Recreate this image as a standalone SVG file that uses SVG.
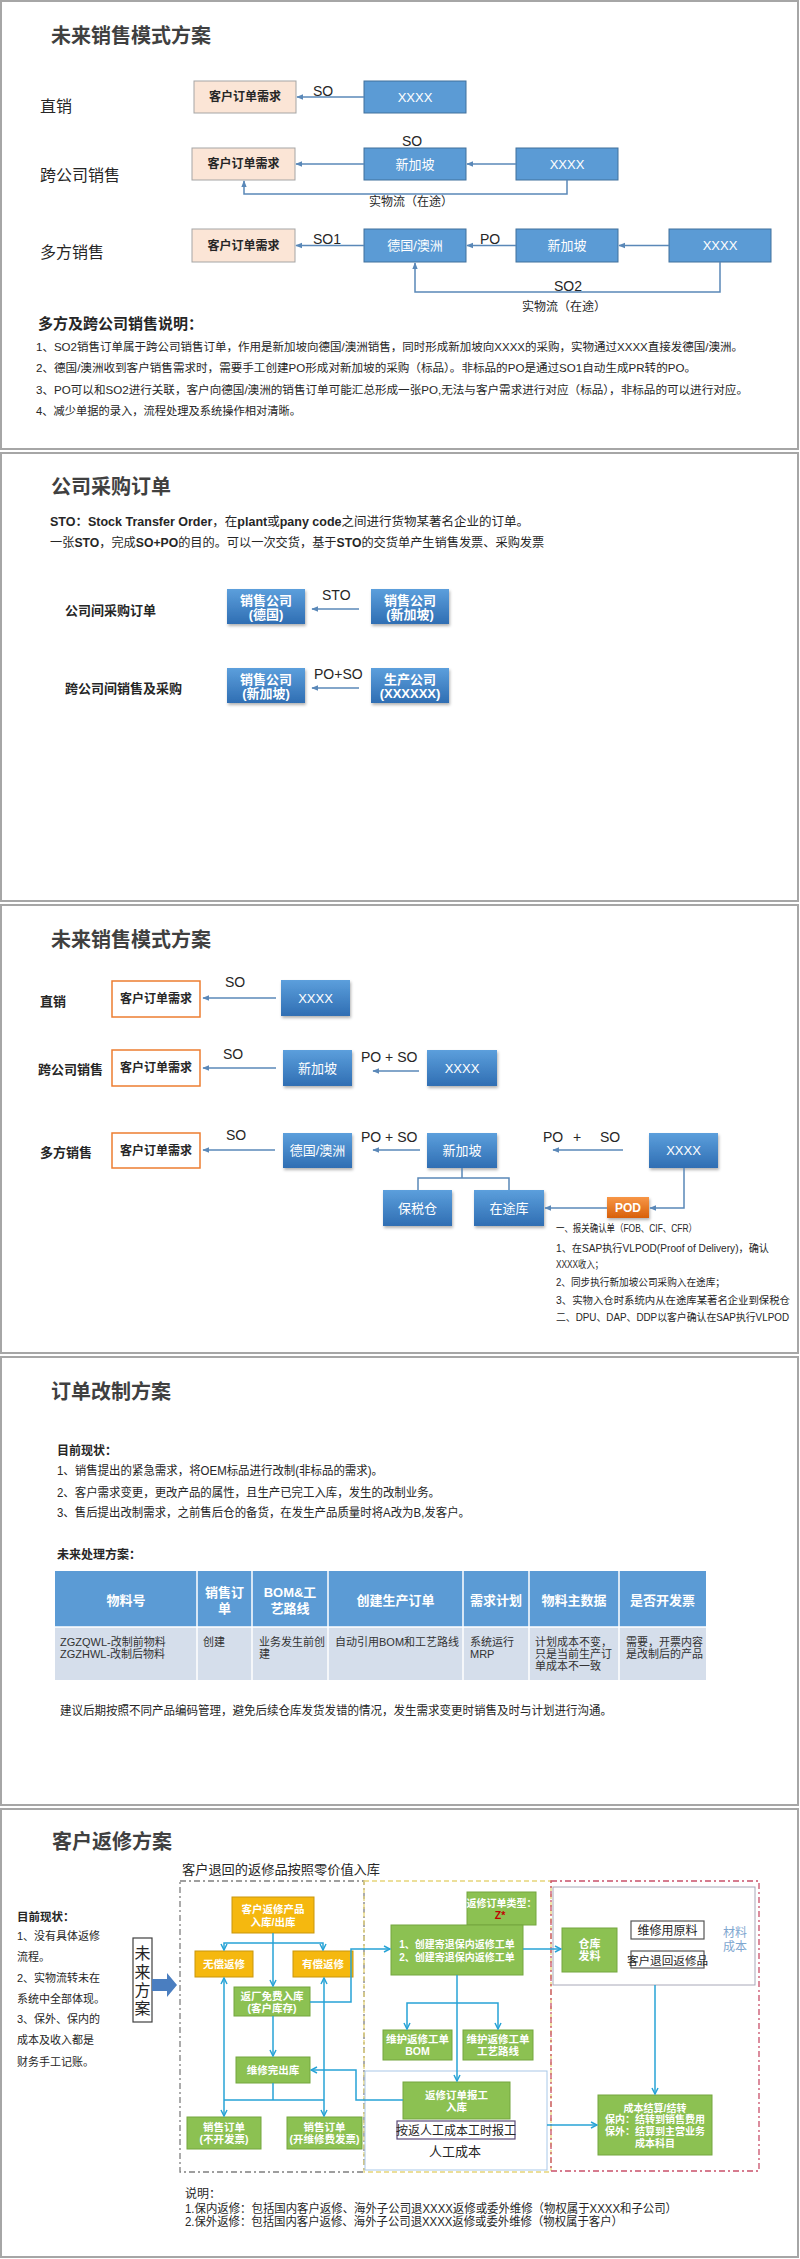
<svg xmlns="http://www.w3.org/2000/svg" width="800" height="2259" viewBox="0 0 800 2259">
<style>
text{font-family:'Liberation Sans','Noto Sans CJK SC',sans-serif;fill:#262626}
.frame{fill:#fff;stroke:#a6a6a6;stroke-width:2}
.title{font-size:20px;font-weight:bold;fill:#404040}
.lbl16{font-size:16px}
.lbl13b{font-size:13px;font-weight:bold}
.so{font-size:14px}
.body{font-size:12px}
.desc{font-size:11.5px}
.small{font-size:11px}
.note{font-size:10.2px}
.peach{fill:#fbe5d6;stroke:#a5a5a5;stroke-width:1}
.flat{fill:#5b9bd5;stroke:#41719c;stroke-width:1}
.grad{fill:url(#gBlue);filter:url(#sh)}
.orng{fill:#fff;stroke:#ed7d31;stroke-width:1.5}
.pod{fill:url(#gOrange);filter:url(#sh)}
.bt{font-size:12px;font-weight:bold;text-anchor:middle}
.wt{font-size:13px;fill:#fff;text-anchor:middle}
.wb{font-size:13px;font-weight:bold;fill:#fff;text-anchor:middle}
.conn{fill:none;stroke:#5a88b8;stroke-width:1.5}
.conn5{fill:none;stroke:#27a3d6;stroke-width:1.5}
.gold{fill:#f5b80f;stroke:#c9960c;stroke-width:1}
.green{fill:#8cc152;stroke:#74a63e;stroke-width:1}
.gw{font-size:10.5px;font-weight:bold;fill:#fff;text-anchor:middle}
.th{font-size:13px;font-weight:bold;fill:#fff;text-anchor:middle}
.td{font-size:11px;fill:#333}
</style>
<defs>
<linearGradient id="gBlue" x1="0" y1="0" x2="0" y2="1"><stop offset="0" stop-color="#5c9fdc"/><stop offset="1" stop-color="#2f6eb3"/></linearGradient>
<linearGradient id="gOrange" x1="0" y1="0" x2="0" y2="1"><stop offset="0" stop-color="#f79646"/><stop offset="1" stop-color="#d8600a"/></linearGradient>
<filter id="sh" x="-10%" y="-10%" width="130%" height="140%"><feDropShadow dx="1" dy="2" stdDeviation="1.5" flood-color="#000" flood-opacity="0.3"/></filter>
<marker id="ah" viewBox="0 0 10 10" refX="9" refY="5" markerWidth="4.5" markerHeight="4.5" orient="auto-start-reverse"><path d="M0,1 L10,5 L0,9 z" fill="#5a88b8"/></marker>
<marker id="ahc" viewBox="0 0 10 10" refX="9" refY="5" markerWidth="5" markerHeight="5" orient="auto-start-reverse"><path d="M1,1 L9,5 L1,9" fill="none" stroke="#27a3d6" stroke-width="2"/></marker>
</defs>
<rect width="800" height="2259" fill="#fff"/>

<!-- ================= Slide 1 ================= -->
<g id="slide1">
<rect class="frame" x="1" y="1" width="797" height="448"/>
<text class="title" x="51" y="43">未来销售模式方案</text>
<text class="lbl16" x="40" y="112">直销</text>
<text class="lbl16" x="40" y="181">跨公司销售</text>
<text class="lbl16" x="40" y="258">多方销售</text>
<g id="s1-r1-cust"><rect class="peach" x="194" y="81" width="102" height="32"/><text class="bt" x="245" y="101">客户订单需求</text></g>
<g id="s1-r1-xxxx"><rect class="flat" x="364" y="81" width="102" height="32"/><text class="wt" x="415" y="102">XXXX</text></g>
<g id="s1-r2-cust"><rect class="peach" x="192" y="148" width="103" height="32"/><text class="bt" x="243.5" y="168">客户订单需求</text></g>
<g id="s1-r2-sg"><rect class="flat" x="364" y="148" width="102" height="32"/><text class="wt" x="415" y="169">新加坡</text></g>
<g id="s1-r2-xxxx"><rect class="flat" x="516" y="148" width="102" height="32"/><text class="wt" x="567" y="169">XXXX</text></g>
<g id="s1-r3-cust"><rect class="peach" x="192" y="229" width="103" height="33"/><text class="bt" x="243.5" y="250">客户订单需求</text></g>
<g id="s1-r3-de"><rect class="flat" x="364" y="229" width="102" height="33"/><text class="wt" x="415" y="250">德国/澳洲</text></g>
<g id="s1-r3-sg"><rect class="flat" x="516" y="229" width="102" height="33"/><text class="wt" x="567" y="250">新加坡</text></g>
<g id="s1-r3-xxxx"><rect class="flat" x="669" y="229" width="102" height="33"/><text class="wt" x="720" y="250">XXXX</text></g>
<g id="s1-connectors">
<path class="conn" d="M364,97 H297" marker-end="url(#ah)"/>
<path class="conn" d="M364,164 H296" marker-end="url(#ah)"/>
<path class="conn" d="M516,164 H467" marker-end="url(#ah)"/>
<path class="conn" d="M567,180 V194 H244 V181" marker-end="url(#ah)"/>
<path class="conn" d="M364,245.5 H296" marker-end="url(#ah)"/>
<path class="conn" d="M516,245.5 H467" marker-end="url(#ah)"/>
<path class="conn" d="M669,245.5 H619" marker-end="url(#ah)"/>
<path class="conn" d="M720,262 V292 H415 V263" marker-end="url(#ah)"/>
<text class="so" x="313" y="96">SO</text>
<text class="so" x="402" y="146">SO</text>
<text class="body" x="411" y="206" text-anchor="middle">实物流（在途）</text>
<text class="so" x="313" y="244">SO1</text>
<text class="so" x="480" y="244">PO</text>
<text class="so" x="554" y="291">SO2</text>
<text class="body" x="564" y="311" text-anchor="middle">实物流（在途）</text>
</g>
<text x="38" y="329" style="font-size:15px;font-weight:bold">多方及跨公司销售说明：</text>
<text class="desc" x="36" y="351" textLength="707" lengthAdjust="spacingAndGlyphs">1、SO2销售订单属于跨公司销售订单，作用是新加坡向德国/澳洲销售，同时形成新加坡向XXXX的采购，实物通过XXXX直接发德国/澳洲。</text>
<text class="desc" x="36" y="372" textLength="660" lengthAdjust="spacingAndGlyphs">2、德国/澳洲收到客户销售需求时，需要手工创建PO形成对新加坡的采购（标品）。非标品的PO是通过SO1自动生成PR转的PO。</text>
<text class="desc" x="36" y="394" textLength="712" lengthAdjust="spacingAndGlyphs">3、PO可以和SO2进行关联，客户向德国/澳洲的销售订单可能汇总形成一张PO,无法与客户需求进行对应（标品），非标品的可以进行对应。</text>
<text class="desc" x="36" y="415" textLength="265" lengthAdjust="spacingAndGlyphs">4、减少单据的录入，流程处理及系统操作相对清晰。</text>
</g>

<!-- ================= Slide 2 ================= -->
<g id="slide2">
<rect class="frame" x="1" y="453" width="797" height="448"/>
<text class="title" x="51" y="494">公司采购订单</text>
<text x="50" y="526" style="font-size:12.5px"><tspan font-weight="bold">STO：Stock Transfer Order</tspan>，在<tspan font-weight="bold">plant</tspan>或<tspan font-weight="bold">pany code</tspan>之间进行货物某著名企业的订单。</text>
<text x="50" y="547" style="font-size:12.2px">一张<tspan font-weight="bold">STO</tspan>，完成<tspan font-weight="bold">SO+PO</tspan>的目的。可以一次交货，基于<tspan font-weight="bold">STO</tspan>的交货单产生销售发票、采购发票</text>
<text class="lbl13b" x="65" y="615">公司间采购订单</text>
<text class="lbl13b" x="65" y="693">跨公司间销售及采购</text>
<g id="s2-sales-de"><rect class="grad" x="227" y="589" width="78" height="35"/><text class="wb" x="266" y="605">销售公司</text><text class="wb" x="266" y="619">(德国)</text></g>
<g id="s2-sales-sg"><rect class="grad" x="371" y="589" width="78" height="35"/><text class="wb" x="410" y="605">销售公司</text><text class="wb" x="410" y="619">(新加坡)</text></g>
<g id="s2-sales-sg2"><rect class="grad" x="227" y="668" width="78" height="35"/><text class="wb" x="266" y="684">销售公司</text><text class="wb" x="266" y="698">(新加坡)</text></g>
<g id="s2-prod"><rect class="grad" x="371" y="668" width="78" height="35"/><text class="wb" x="410" y="684">生产公司</text><text class="wb" x="410" y="698">(XXXXXX)</text></g>
<g id="s2-connectors">
<path class="conn" d="M359,609 H312" marker-end="url(#ah)"/>
<path class="conn" d="M359,688 H312" marker-end="url(#ah)"/>
<text class="so" x="322" y="600">STO</text>
<text class="so" x="314" y="679">PO+SO</text>
</g>
</g>

<!-- ================= Slide 3 ================= -->
<g id="slide3">
<rect class="frame" x="1" y="905" width="797" height="448"/>
<text class="title" x="51" y="947">未来销售模式方案</text>
<text class="lbl13b" x="40" y="1006">直销</text>
<text class="lbl13b" x="38" y="1074">跨公司销售</text>
<text class="lbl13b" x="40" y="1157">多方销售</text>
<g id="s3-r1-cust"><rect class="orng" x="112" y="981" width="88" height="36"/><text class="bt" x="156" y="1003">客户订单需求</text></g>
<g id="s3-r1-xxxx"><rect class="grad" x="281" y="980" width="69" height="36"/><text class="wt" x="315.5" y="1003">XXXX</text></g>
<g id="s3-r2-cust"><rect class="orng" x="112" y="1050" width="88" height="36"/><text class="bt" x="156" y="1072">客户订单需求</text></g>
<g id="s3-r2-sg"><rect class="grad" x="283" y="1050" width="69" height="36"/><text class="wt" x="317.5" y="1073">新加坡</text></g>
<g id="s3-r2-xxxx"><rect class="grad" x="427" y="1050" width="70" height="36"/><text class="wt" x="462" y="1073">XXXX</text></g>
<g id="s3-r3-cust"><rect class="orng" x="112" y="1133" width="88" height="35"/><text class="bt" x="156" y="1155">客户订单需求</text></g>
<g id="s3-r3-de"><rect class="grad" x="283" y="1133" width="69" height="35"/><text class="wt" x="317.5" y="1155">德国/澳洲</text></g>
<g id="s3-r3-sg"><rect class="grad" x="427" y="1133" width="70" height="35"/><text class="wt" x="462" y="1155">新加坡</text></g>
<g id="s3-r3-xxxx"><rect class="grad" x="649" y="1133" width="69" height="35"/><text class="wt" x="683.5" y="1155">XXXX</text></g>
<g id="s3-bonded"><rect class="grad" x="383" y="1190" width="69" height="36"/><text class="wt" x="417.5" y="1213">保税仓</text></g>
<g id="s3-transit"><rect class="grad" x="474" y="1190" width="70" height="36"/><text class="wt" x="509" y="1213">在途库</text></g>
<g id="s3-pod"><rect class="pod" x="607" y="1197" width="42" height="21"/><text class="wb" x="628" y="1212" style="font-size:12px">POD</text></g>
<g id="s3-connectors">
<path class="conn" d="M276,998 H203" marker-end="url(#ah)"/>
<path class="conn" d="M276,1068 H203" marker-end="url(#ah)"/>
<path class="conn" d="M419,1071 H373" marker-end="url(#ah)"/>
<path class="conn" d="M275,1150 H203" marker-end="url(#ah)"/>
<path class="conn" d="M420,1150 H373" marker-end="url(#ah)"/>
<path class="conn" d="M623,1150 H553" marker-end="url(#ah)"/>
<path class="conn" d="M462,1168 V1178 M418,1190 V1178 H509 V1190"/>
<path class="conn" d="M684,1168 V1208 H650" marker-end="url(#ah)"/>
<path class="conn" d="M607,1208 H545" marker-end="url(#ah)"/>
<text class="so" x="225" y="987">SO</text>
<text class="so" x="223" y="1059">SO</text>
<text class="so" x="361" y="1062">PO + SO</text>
<text class="so" x="226" y="1140">SO</text>
<text class="so" x="361" y="1142">PO + SO</text>
<text class="so" x="543" y="1142">PO</text>
<text class="so" x="573" y="1142">+</text>
<text class="so" x="600" y="1142">SO</text>
</g>
<text class="note" x="556" y="1232" textLength="141" lengthAdjust="spacingAndGlyphs">一、报关确认单（FOB、CIF、CFR）</text>
<text class="note" x="556" y="1252" textLength="213" lengthAdjust="spacingAndGlyphs">1、在SAP执行VLPOD(Proof of Delivery)，确认</text>
<text class="note" x="556" y="1268" textLength="47" lengthAdjust="spacingAndGlyphs">XXXX收入；</text>
<text class="note" x="556" y="1286" textLength="169" lengthAdjust="spacingAndGlyphs">2、同步执行新加坡公司采购入在途库；</text>
<text class="note" x="556" y="1304" textLength="234" lengthAdjust="spacingAndGlyphs">3、实物入仓时系统内从在途库某著名企业到保税仓</text>
<text class="note" x="556" y="1321" textLength="233" lengthAdjust="spacingAndGlyphs">二、DPU、DAP、DDP以客户确认在SAP执行VLPOD</text>
</g>

<!-- ================= Slide 4 ================= -->
<g id="slide4">
<rect class="frame" x="1" y="1357" width="797" height="448"/>
<text class="title" x="51" y="1399">订单改制方案</text>
<text x="57" y="1455" style="font-size:12px;font-weight:bold">目前现状：</text>
<text class="body" x="57" y="1475" textLength="326" lengthAdjust="spacingAndGlyphs">1、销售提出的紧急需求，将OEM标品进行改制(非标品的需求)。</text>
<text class="body" x="57" y="1497" textLength="383" lengthAdjust="spacingAndGlyphs">2、客户需求变更，更改产品的属性，且生产已完工入库，发生的改制业务。</text>
<text class="body" x="57" y="1517" textLength="413" lengthAdjust="spacingAndGlyphs">3、售后提出改制需求，之前售后仓的备货，在发生产品质量时将A改为B,发客户。</text>
<text x="57" y="1559" style="font-size:12px;font-weight:bold">未来处理方案：</text>
<g id="s4-table">
<rect x="55" y="1571" width="651" height="56" fill="#5b9bd5"/>
<rect x="55" y="1627" width="651" height="53" fill="#d5deeb"/>
<path d="M197,1571 V1680 M252,1571 V1680 M328,1571 V1680 M463,1571 V1680 M529,1571 V1680 M619,1571 V1680 M55,1627 H706" stroke="#fff" stroke-width="1.5" fill="none"/>
<text class="th" x="126" y="1605">物料号</text>
<text class="th" x="224.5" y="1597">销售订</text><text class="th" x="224.5" y="1613">单</text>
<text class="th" x="290" y="1597">BOM&amp;工</text><text class="th" x="290" y="1613">艺路线</text>
<text class="th" x="395.5" y="1605">创建生产订单</text>
<text class="th" x="496" y="1605">需求计划</text>
<text class="th" x="574" y="1605">物料主数据</text>
<text class="th" x="662.5" y="1605">是否开发票</text>
<text class="td" x="60" y="1646">ZGZQWL-改制前物料</text><text class="td" x="60" y="1658">ZGZHWL-改制后物料</text>
<text class="td" x="203" y="1646">创建</text>
<text class="td" x="259" y="1646">业务发生前创</text><text class="td" x="259" y="1658">建</text>
<text class="td" x="335" y="1646">自动引用BOM和工艺路线</text>
<text class="td" x="470" y="1646">系统运行</text><text class="td" x="470" y="1658">MRP</text>
<text class="td" x="535" y="1646">计划成本不变，</text><text class="td" x="535" y="1658">只是当前生产订</text><text class="td" x="535" y="1670">单成本不一致</text>
<text class="td" x="626" y="1646">需要，开票内容</text><text class="td" x="626" y="1658">是改制后的产品</text>
</g>
<text class="body" x="60" y="1715" textLength="552" lengthAdjust="spacingAndGlyphs">建议后期按照不同产品编码管理，避免后续仓库发货发错的情况，发生需求变更时销售及时与计划进行沟通。</text>
</g>

<!-- ================= Slide 5 ================= -->
<g id="slide5">
<rect class="frame" x="1" y="1809" width="797" height="448"/>
<text class="title" x="52" y="1849">客户返修方案</text>
<text x="182" y="1874" style="font-size:13px" textLength="198" lengthAdjust="spacingAndGlyphs">客户退回的返修品按照零价值入库</text>
<text x="17" y="1921" style="font-size:11.5px;font-weight:bold">目前现状：</text>
<text class="small" x="17" y="1940">1、没有具体返修</text>
<text class="small" x="17" y="1961">流程。</text>
<text class="small" x="17" y="1982">2、实物流转未在</text>
<text class="small" x="17" y="2003">系统中全部体现。</text>
<text class="small" x="17" y="2023">3、保外、保内的</text>
<text class="small" x="17" y="2044">成本及收入都是</text>
<text class="small" x="17" y="2066">财务手工记账。</text>
<g id="s5-future">
<rect x="133" y="1938" width="19" height="84" fill="#fff" stroke="#404040" stroke-width="1.2"/>
<text x="142.5" y="1959" style="font-size:16px" text-anchor="middle">未</text>
<text x="142.5" y="1978" style="font-size:16px" text-anchor="middle">来</text>
<text x="142.5" y="1996" style="font-size:16px" text-anchor="middle">方</text>
<text x="142.5" y="2014" style="font-size:16px" text-anchor="middle">案</text>
</g>
<polygon id="s5-bigarrow" points="152,1979 167,1979 167,1973 177,1985 167,1997 167,1991 152,1991" fill="#4a7ec0"/>
<rect id="s5-zone1" x="180" y="1881" width="184" height="291" fill="none" stroke="#7f7f7f" stroke-width="1.3" stroke-dasharray="6 3 2 3"/>
<rect id="s5-zone2" x="364" y="1881" width="187" height="291" fill="none" stroke="#e6d57a" stroke-width="1.3" stroke-dasharray="5 3"/>
<rect id="s5-zone3" x="551" y="1881" width="208" height="290" fill="none" stroke="#c9506a" stroke-width="1.3" stroke-dasharray="6 3 2 3"/>
<rect id="s5-labor" x="365" y="2071" width="182" height="99" fill="#fff" stroke="#a9c8e8" stroke-width="1"/>
<rect id="s5-material" x="553" y="1887" width="202" height="98" fill="#fff" stroke="#a8a8b8" stroke-width="1"/>
<g id="s5-in"><rect class="gold" x="232" y="1897" width="82" height="36"/><text class="gw" x="273" y="1913">客户返修产品</text><text class="gw" x="273" y="1926">入库/出库</text></g>
<g id="s5-free"><rect class="gold" x="195" y="1951" width="58" height="26"/><text class="gw" x="224" y="1968">无偿返修</text></g>
<g id="s5-paid"><rect class="gold" x="293" y="1951" width="60" height="26"/><text class="gw" x="323" y="1968">有偿返修</text></g>
<g id="s5-return"><rect class="green" x="234" y="1987" width="76" height="29"/><text class="gw" x="272" y="2000">返厂免费入库</text><text class="gw" x="272" y="2012">(客户库存)</text></g>
<g id="s5-out"><rect class="green" x="236" y="2057" width="74" height="26"/><text class="gw" x="273" y="2074">维修完出库</text></g>
<g id="s5-so1"><rect class="green" x="187" y="2117" width="74" height="32"/><text class="gw" x="224" y="2131">销售订单</text><text class="gw" x="224" y="2143">(不开发票)</text></g>
<g id="s5-so2"><rect class="green" x="287" y="2117" width="75" height="32"/><text class="gw" x="324.5" y="2131">销售订单</text><text class="gw" x="324.5" y="2143">(开维修费发票)</text></g>
<g id="s5-type"><rect class="green" x="467" y="1892" width="69" height="33"/><text class="gw" x="501.5" y="1907" style="font-size:10px">返修订单类型：</text><text x="500" y="1919" style="font-size:10.5px;font-weight:bold;fill:#c00000" text-anchor="middle">Z*</text></g>
<g id="s5-create"><rect class="green" x="391" y="1925" width="132" height="50"/><text class="gw" x="457" y="1948" style="font-size:10px">1、创建寄退保内返修工单</text><text class="gw" x="457" y="1961" style="font-size:10px">2、创建寄退保内返修工单</text></g>
<g id="s5-bom"><rect class="green" x="383" y="2030" width="69" height="30"/><text class="gw" x="417.5" y="2043">维护返修工单</text><text class="gw" x="417.5" y="2055">BOM</text></g>
<g id="s5-route"><rect class="green" x="463" y="2030" width="70" height="30"/><text class="gw" x="498" y="2043">维护返修工单</text><text class="gw" x="498" y="2055">工艺路线</text></g>
<g id="s5-report"><rect class="green" x="403" y="2082" width="107" height="37"/><text class="gw" x="456.5" y="2099">返修订单报工</text><text class="gw" x="456.5" y="2111">入库</text></g>
<g id="s5-hours"><rect x="397" y="2121" width="118" height="18" fill="#fff" stroke="#5a4a7a" stroke-width="1.2"/><text x="456" y="2135" style="font-size:12px" text-anchor="middle">按返人工成本工时报工</text></g>
<text x="455" y="2156" style="font-size:13px" text-anchor="middle">人工成本</text>
<g id="s5-issue"><rect class="green" x="562" y="1928" width="55" height="44"/><text class="gw" x="589.5" y="1948" style="font-size:11px">仓库</text><text class="gw" x="589.5" y="1960" style="font-size:11px">发料</text></g>
<g id="s5-raw"><rect x="631" y="1921" width="73" height="18" fill="#fff" stroke="#555" stroke-width="1.2"/><text x="667.5" y="1935" style="font-size:12px" text-anchor="middle">维修用原料</text></g>
<g id="s5-retitem"><rect x="631" y="1951" width="73" height="17" fill="#fff" stroke="#555" stroke-width="1.2"/><text x="667.5" y="1965" style="font-size:11.6px" text-anchor="middle">客户退回返修品</text></g>
<text x="735" y="1937" style="font-size:12px;fill:#7fa7d0" text-anchor="middle">材料</text>
<text x="735" y="1951" style="font-size:12px;fill:#7fa7d0" text-anchor="middle">成本</text>
<g id="s5-settle"><rect class="green" x="598" y="2095" width="114" height="60"/><text class="gw" x="655" y="2112" style="font-size:10px">成本结算/结转</text><text class="gw" x="655" y="2123" style="font-size:10px">保内：结转到销售费用</text><text class="gw" x="655" y="2135" style="font-size:10px">保外：结算到主营业务</text><text class="gw" x="655" y="2147" style="font-size:10px">成本科目</text></g>
<g id="s5-connectors">
<path class="conn5" d="M273,1933 V1986" marker-end="url(#ahc)"/>
<path class="conn5" d="M224,1950 V1943 H323 V1950" marker-start="url(#ahc)" marker-end="url(#ahc)"/>
<path class="conn5" d="M310,2002 H351 V1949 H390" marker-end="url(#ahc)"/>
<path class="conn5" d="M273,2016 V2056" marker-end="url(#ahc)"/>
<path class="conn5" d="M224,1978 V2116" marker-start="url(#ahc)" marker-end="url(#ahc)"/>
<path class="conn5" d="M324,1978 V2116" marker-start="url(#ahc)" marker-end="url(#ahc)"/>
<path class="conn5" d="M224,2100 H324 M273,2083 V2100"/>
<path class="conn5" d="M403,2100 H356 V2070 H311" marker-end="url(#ahc)"/>
<path class="conn5" d="M523,1949 H561" marker-end="url(#ahc)"/>
<path class="conn5" d="M457,1975 V2081" marker-end="url(#ahc)"/>
<path class="conn5" d="M407,2029 V2003 H498 V2029" marker-start="url(#ahc)" marker-end="url(#ahc)"/>
<path class="conn5" d="M655,1985 V2094" marker-end="url(#ahc)"/>
<path class="conn5" d="M547,2125 H597" marker-end="url(#ahc)"/>
</g>
<text class="body" x="185" y="2198">说明：</text>
<text class="body" x="185" y="2213" textLength="492" lengthAdjust="spacingAndGlyphs">1.保内返修：包括国内客户返修、海外子公司退XXXX返修或委外维修（物权属于XXXX和子公司）</text>
<text class="body" x="185" y="2226" textLength="438" lengthAdjust="spacingAndGlyphs">2.保外返修：包括国内客户返修、海外子公司退XXXX返修或委外维修（物权属于客户）</text>
</g>
</svg>
